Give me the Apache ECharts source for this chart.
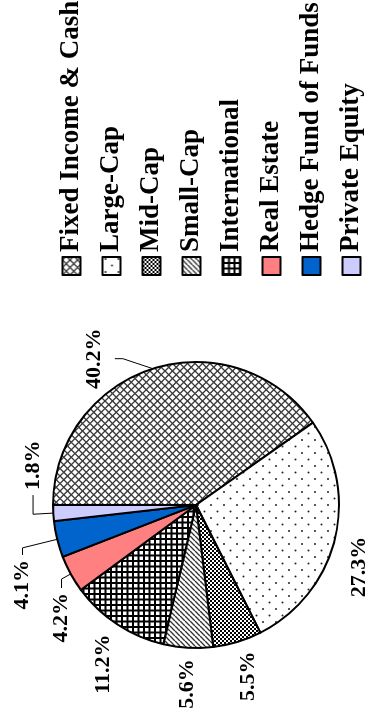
<!DOCTYPE html>
<html>
<head>
<meta charset="utf-8">
<script src="https://cdn.jsdelivr.net/npm/echarts@6/dist/echarts.min.js"></script>
<style>
  html, body { margin: 0; padding: 0; background: #fff; overflow: hidden; }
  /* the chart is drawn landscape and turned a quarter counter-clockwise */
  #chart {
    position: absolute; left: 0; top: 0;
    width: 716px; height: 384px;
    transform-origin: 0 0;
    transform: translateY(716px) rotate(-90deg);
  }
</style>
</head>
<body>
<div id="chart"></div>
<script>
const names = ['Fixed Income & Cash', 'Large-Cap', 'Mid-Cap', 'Small-Cap',
  'International', 'Real Estate', 'Hedge Fund of Funds', 'Private Equity'];
const shares = [40.2, 27.3, 5.5, 5.6, 11.2, 4.2, 4.1, 1.8];
const fills = ['crosshatch', 'dots', 'checker', 'stripes', 'grid', '#FF8080', '#0064CC', '#CCCCFF'];

// label placement tweaks (line lengths, alignment)
const lineLen = [10, 25.6, 36.2, 10, 25.8, 10.5, 35.7, 20.2];
const lineLen2 = [0, 16, 19.5, 21.2, 13.2, 9, 7.1, -19.2];
const lineShow = [true, false, false, false, false, true, true, true];
const labelAlign = ['center', 'center', 'left', 'center', 'center', 'right', 'right', 'left'];
const labelDist = [5, 5, 5, 5, 5, 5, 5, -5];

function tile(size, draw) {
  const c = document.createElement('canvas');
  c.width = size; c.height = size;
  const ctx = c.getContext('2d');
  ctx.fillStyle = '#fff';
  ctx.fillRect(0, 0, size, size);
  draw(ctx, size);
  return { image: c, repeat: 'repeat' };
}

const patterns = {
  crosshatch: tile(15, function (ctx, s) {
    ctx.strokeStyle = '#3a3a3a';
    ctx.lineWidth = 1.3;
    for (let k = -4; k <= 4; k++) {
      ctx.beginPath();
      ctx.moveTo(k * 7.5, 0); ctx.lineTo(k * 7.5 + s, s);
      ctx.moveTo(k * 7.5, s); ctx.lineTo(k * 7.5 + s, 0);
      ctx.stroke();
    }
  }),
  dots: tile(13, function (ctx) {
    ctx.fillStyle = '#222';
    ctx.beginPath(); ctx.arc(3, 3, 1, 0, Math.PI * 2); ctx.fill();
    ctx.beginPath(); ctx.arc(9.5, 9.5, 1, 0, Math.PI * 2); ctx.fill();
  }),
  checker: tile(4, function (ctx) {
    ctx.fillStyle = '#000';
    ctx.fillRect(0, 0, 2, 2);
    ctx.fillRect(2, 2, 2, 2);
  }),
  stripes: tile(5, function (ctx, s) {
    ctx.strokeStyle = '#333';
    ctx.lineWidth = 1.3;
    for (let k = -1; k <= 1; k++) {
      ctx.beginPath();
      ctx.moveTo(k * s, s); ctx.lineTo(k * s + s, 0);
      ctx.stroke();
    }
  }),
  grid: tile(11, function (ctx, s) {
    ctx.fillStyle = '#000';
    ctx.fillRect(0, 0, s, 2); ctx.fillRect(0, 5.5, s, 2);
    ctx.fillRect(0, 0, 2, s); ctx.fillRect(5.5, 0, 2, s);
  })
};

const fontFamily = '"Liberation Serif", "Times New Roman", serif';

const pieData = names.map(function (n, i) {
  return {
    name: n,
    value: shares[i],
    itemStyle: { color: patterns[fills[i]] || fills[i] },
    label: { distanceToLabelLine: labelDist[i] },
    labelLine: { show: lineShow[i], length: lineLen[i], length2: lineLen2[i] }
  };
});

const chart = echarts.init(document.getElementById('chart'), null, { renderer: 'canvas' });

const option = {
  backgroundColor: '#fff',
  animation: false,
  legend: {
    orient: 'vertical',
    left: 435,
    top: 53,
    itemWidth: 18,
    itemHeight: 18,
    itemGap: 13,
    icon: 'rect',
    data: names,
    textStyle: { fontSize: 27, fontWeight: 'bold', fontFamily: fontFamily, color: '#000' }
  },
  series: [{
    type: 'pie',
    center: [211, 196],
    radius: 143,
    startAngle: 90,
    avoidLabelOverlap: false,
    data: pieData,
    itemStyle: { borderColor: '#000', borderWidth: 2 },
    label: {
      position: 'outside',
      formatter: '{c}%',
      fontSize: 22,
      fontWeight: 'bold',
      fontFamily: fontFamily,
      color: '#000'
    },
    labelLine: {
      minTurnAngle: 0,
      maxSurfaceAngle: 180,
      lineStyle: { color: '#000', width: 1 }
    },
    emphasis: { disabled: true },
    labelLayout: function (params) {
      const i = params.dataIndex;
      if (i === 0 && params.labelLinePoints) {
        // big slice: label sits above a short bent leader
        const a = params.labelLinePoints[0];
        const bend = [a[0] + 10, a[1] - 30];
        const end = [a[0] + 10, a[1] - 38];
        return {
          labelLinePoints: [a, bend, end],
          x: end[0], y: end[1] - 10,
          align: 'center', verticalAlign: 'bottom'
        };
      }
      return { align: labelAlign[i] };
    }
  }]
};

chart.setOption(option);
</script>
</body>
</html>
